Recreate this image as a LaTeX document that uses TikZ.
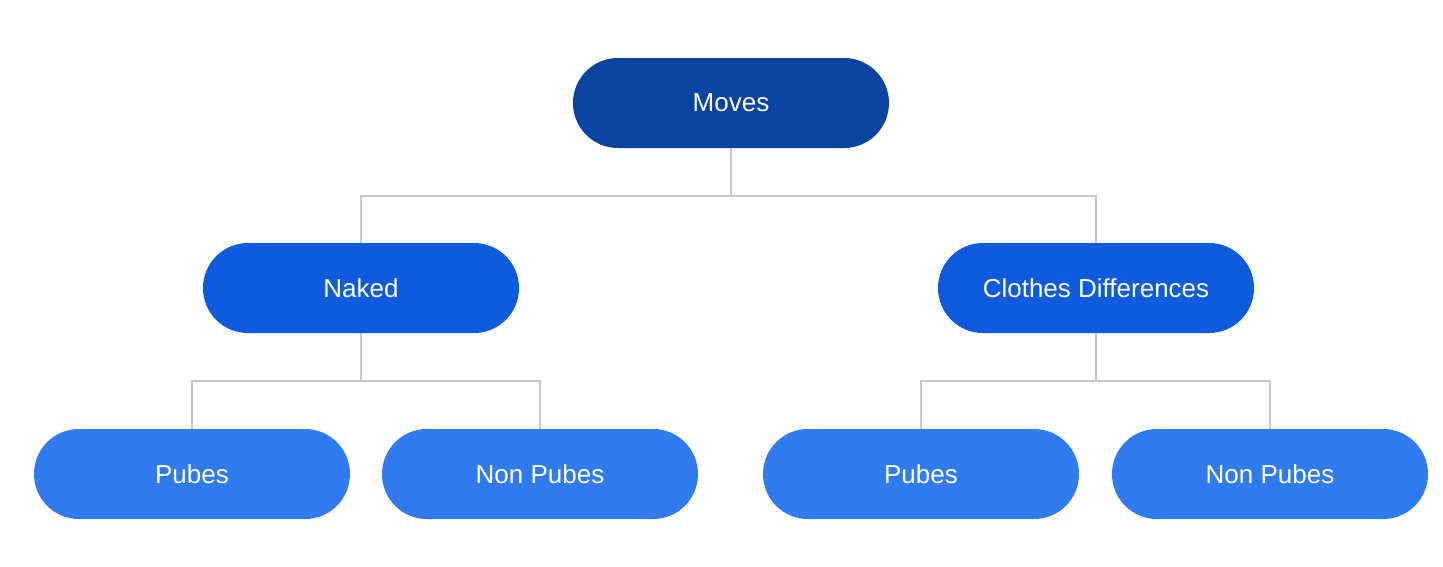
\documentclass[tikz,border=0pt]{standalone}
\usepackage{fontspec}
\setmainfont{Liberation Sans}
\definecolor{lvlone}{HTML}{0B43A0}
\definecolor{lvltwo}{HTML}{0E5BDD}
\definecolor{lvlthree}{HTML}{317BF0}
\definecolor{linkgray}{HTML}{C8C8C8}
\tikzset{
  pill/.style={rounded corners=44.9pt, minimum width=316pt, minimum height=90pt, inner sep=0pt, text=white, font=\fontsize{26}{30}\selectfont},
  topbox/.style={pill, fill=lvlone},
  midbox/.style={pill, fill=lvltwo},
  leafbox/.style={pill, fill=lvlthree},
  link/.style={draw=linkgray, line width=2pt}
}
\begin{document}
\begin{tikzpicture}[x=1pt,y=-1pt]
\useasboundingbox (0,0) rectangle (1443,566);
\node[topbox] (moves) at (731,103) {Moves};
\node[midbox] (naked) at (361,288) {Naked};
\node[midbox] (clothes) at (1096,288) {Clothes Differences};
\node[leafbox] (p1) at (192,474) {Pubes};
\node[leafbox] (n1) at (540,474) {Non Pubes};
\node[leafbox] (p2) at (921,474) {Pubes};
\node[leafbox] (n2) at (1270,474) {Non Pubes};
\draw[link] (moves.south) -- ++(0,48) -| (naked.north);
\draw[link] (moves.south) ++(0,48) -| (clothes.north);
\draw[link] (naked.south) -- ++(0,48) -| (p1.north);
\draw[link] (naked.south) ++(0,48) -| (n1.north);
\draw[link] (clothes.south) -- ++(0,48) -| (p2.north);
\draw[link] (clothes.south) ++(0,48) -| (n2.north);
\end{tikzpicture}
\end{document}
